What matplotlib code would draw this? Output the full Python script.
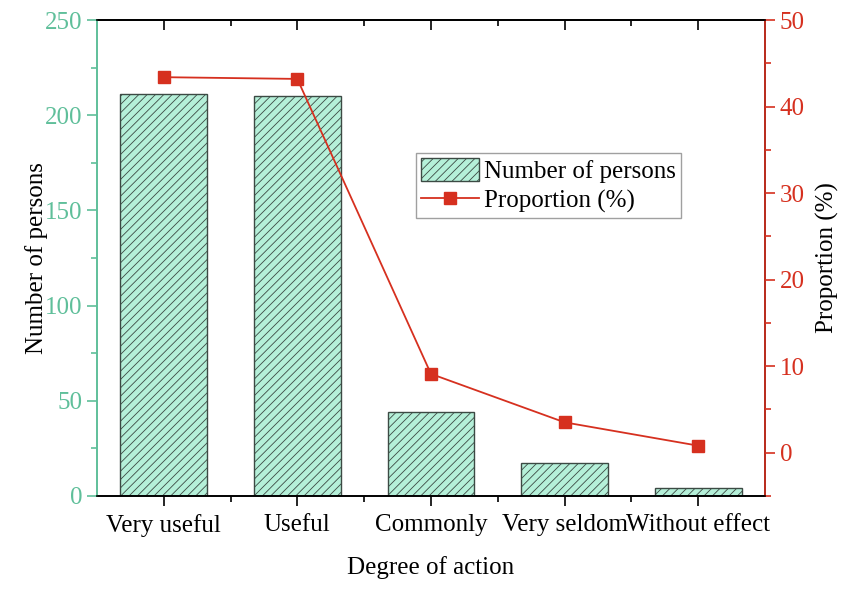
import numpy as np
import matplotlib.pyplot as plt

plt.rcParams['font.family'] = ['Liberation Serif', 'DejaVu Serif']
plt.rcParams['hatch.color'] = '#7fb4a0'
plt.rcParams['hatch.linewidth'] = 0.6

#- Data:

categories = ['Very useful', 'Useful', 'Commonly', 'Very seldom', 'Without effect']
persons = [211, 210, 44, 17, 4]
proportion = [43.4, 43.2, 9.1, 3.5, 0.8]

green = '#5fbf9a'
red = '#d6301f'
fs = 18

fig = plt.figure(figsize=(8.5, 5.91), dpi=100)
ax = fig.add_axes([0.114, 0.161, 0.786, 0.805])
x = np.arange(len(categories))

ax.bar(x, persons, width=0.65, color='#b5f0d9', edgecolor='#3c4a44',
       linewidth=1.0, hatch='////', label='Number of persons', zorder=2)
ax.set_xlim(-0.5, 4.5)
ax.set_ylim(0, 250)
ax.set_xticks(x)
ax.set_xticklabels(categories, fontsize=fs)
ax.set_xticks(x[:-1] + 0.5, minor=True)
ax.set_yticks(np.arange(0, 251, 50))
ax.set_yticks(np.arange(25, 251, 50), minor=True)
ax.set_xlabel('Degree of action', fontsize=fs, labelpad=14)
ax.set_ylabel('Number of persons', fontsize=fs, labelpad=-2)
ax.tick_params(axis='y', colors=green, labelsize=fs, length=7, width=1.2)
ax.tick_params(axis='y', which='minor', colors=green, length=4, width=1.2)
ax.tick_params(axis='x', length=7, width=1.2, pad=6)
ax.tick_params(axis='x', which='minor', length=4, width=1.2)

# top axis: ticks pointing inward
top = ax.secondary_xaxis('top')
top.set_xticks(x)
top.set_xticks(x[:-1] + 0.5, minor=True)
top.tick_params(axis='x', direction='in', length=7, width=1.2, labeltop=False)
top.tick_params(axis='x', which='minor', direction='in', length=4, width=1.2)
top.spines['top'].set_linewidth(1.2)

ax.spines['left'].set_color(green)
for s in ax.spines.values():
    s.set_linewidth(1.2)

ax2 = ax.twinx()
ax2.plot(x, proportion, '-s', color=red, markersize=8, linewidth=1.3,
         label='Proportion (%)', zorder=3)
ax2.set_ylim(-5, 50)
ax2.set_yticks(np.arange(0, 51, 10))
ax2.set_yticks(np.arange(-5, 51, 10), minor=True)
ax2.set_ylabel('Proportion (%)', fontsize=fs, labelpad=8)
ax2.tick_params(axis='y', colors=red, labelsize=fs, length=7, width=1.2)
ax2.tick_params(axis='y', which='minor', colors=red, length=4, width=1.2)
ax2.spines['right'].set_color(red)
ax2.spines['left'].set_color(green)
for s in ax2.spines.values():
    s.set_linewidth(1.2)

h1, l1 = ax.get_legend_handles_labels()
h2, l2 = ax2.get_legend_handles_labels()
leg = ax2.legend(h1 + h2, l1 + l2, loc='upper left', bbox_to_anchor=(0.478, 0.72),
                 fontsize=fs, frameon=True, fancybox=False, edgecolor='#888888',
                 handlelength=2.3, handleheight=1.0, borderpad=0.2,
                 labelspacing=0.2, handletextpad=0.2, borderaxespad=0.0)
leg.get_frame().set_linewidth(1.0)

fig.savefig('out.png', dpi=100)
